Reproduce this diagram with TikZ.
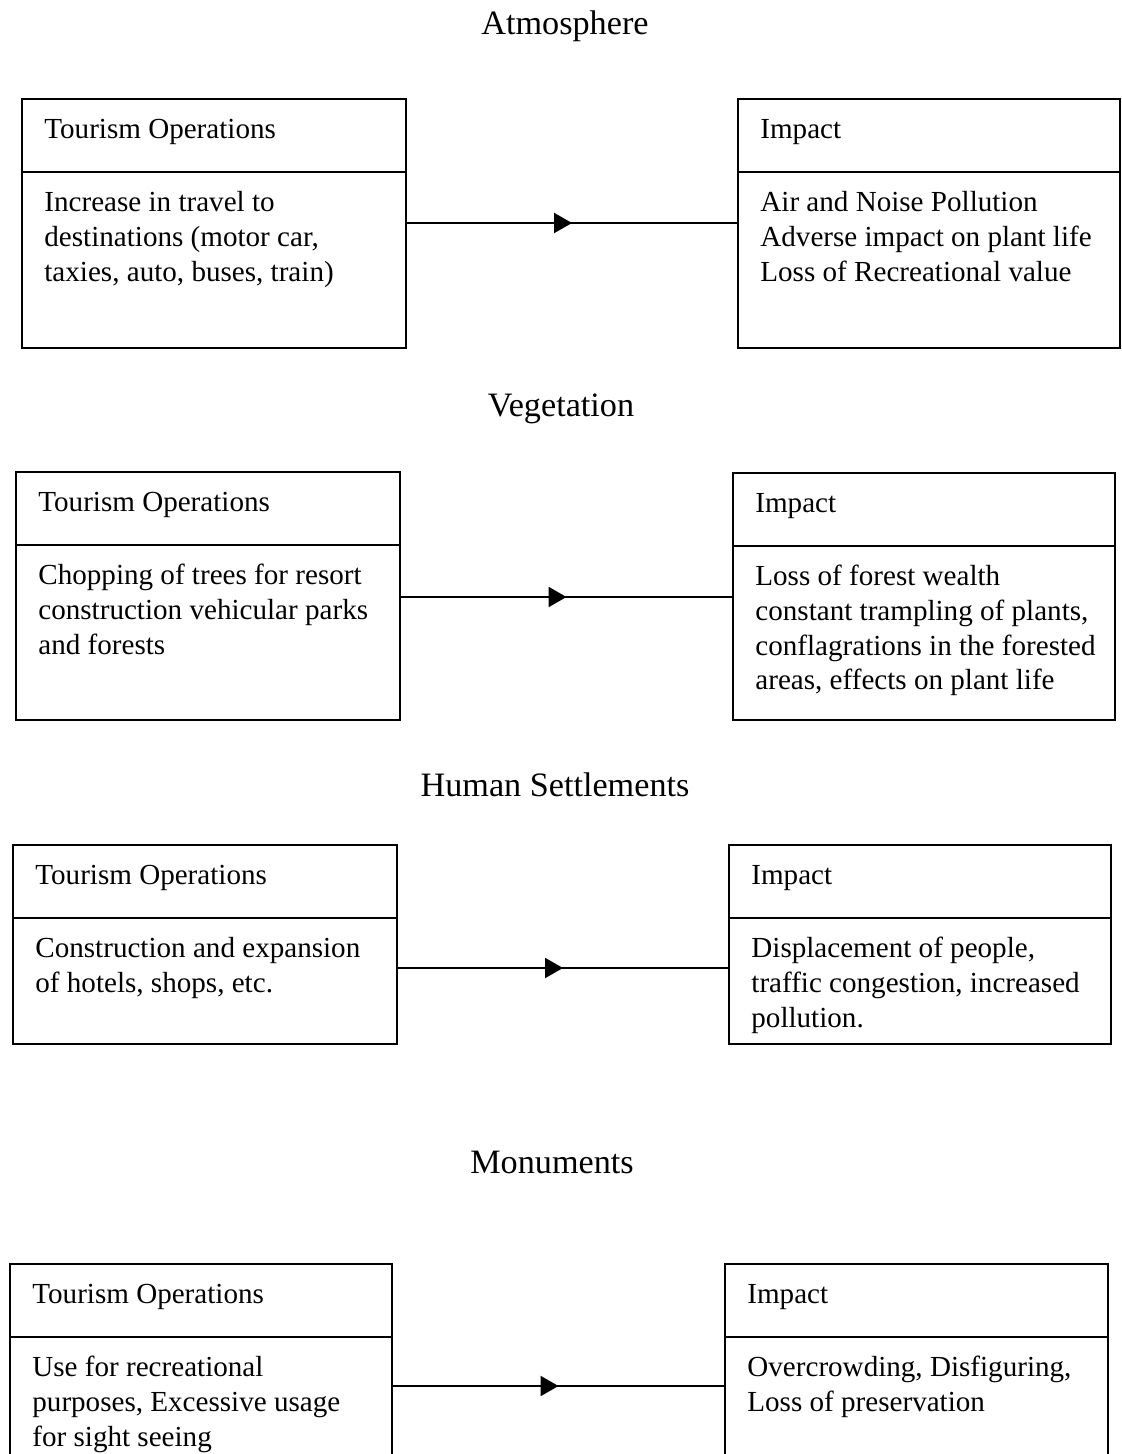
\documentclass[tikz,border=0pt]{standalone}
\usepackage{fontspec}
\setmainfont{Liberation Serif}
\usetikzlibrary{positioning, arrows.meta, decorations.markings}

\tikzset{
  opbox/.style={draw, line width=1.1pt, minimum width=192pt, outer sep=0pt, inner sep=0pt, anchor=north west},
  headbox/.style={opbox, minimum height=36.5pt},
  boxtext/.style={inner sep=0pt, anchor=north west, align=left, font=\fontsize{14.55}{17.4}\selectfont},
  heading/.style={anchor=base, inner sep=0pt, font=\fontsize{17.1}{19}\selectfont},
  flow/.style={line width=1.1pt, decoration={markings, mark=at position 0.5 with {\arrow{Triangle[length=9pt,width=10pt]}}}, postaction={decorate}}
}

\begin{document}
\begin{tikzpicture}[x=0.5pt, y=-0.5pt]
  \clip (0,0) rectangle (1122,1454);

  % Atmosphere
  \node[heading] (atm) at (565,35) {Atmosphere};
  \node[headbox] (op1) at (22,99) {};
  \node[opbox, minimum height=88pt] (op1b) at (op1.south west) {};
  \node[headbox, minimum width=191pt] (im1) at (738,99) {};
  \node[opbox, minimum width=191pt, minimum height=88pt] (im1b) at (im1.south west) {};
  \node[boxtext] (op1t) at ([shift={(11pt,-7.4pt)}]op1.north west) {\strut Tourism Operations};
  \node[boxtext] (op1bt) at ([shift={(11pt,-7.4pt)}]op1b.north west) {\strut Increase in travel to\\destinations (motor car,\\taxies, auto, buses, train)};
  \node[boxtext] (im1t) at ([shift={(11pt,-7.4pt)}]im1.north west) {\strut Impact};
  \node[boxtext] (im1bt) at ([shift={(11pt,-7.4pt)}]im1b.north west) {\strut Air and Noise Pollution\\Adverse impact on plant life\\Loss of Recreational value};
  \coordinate (a1) at ([yshift=-25.5pt]op1b.north east);
  \draw[flow] (a1) -- (a1 -| im1b.west);

  % Vegetation
  \node[heading] (veg) at (561,416) {Vegetation};
  \node[headbox] (op2) at (16,472) {};
  \node[opbox, minimum height=87.5pt] (op2b) at (op2.south west) {};
  \node[headbox, minimum width=191pt] (im2) at (733,473) {};
  \node[opbox, minimum width=191pt, minimum height=87pt] (im2b) at (im2.south west) {};
  \node[boxtext] (op2t) at ([shift={(11pt,-7.4pt)}]op2.north west) {\strut Tourism Operations};
  \node[boxtext] (op2bt) at ([shift={(11pt,-7.4pt)}]op2b.north west) {\strut Chopping of trees for resort\\construction vehicular parks\\and forests};
  \node[boxtext] (im2t) at ([shift={(11pt,-7.4pt)}]im2.north west) {\strut Impact};
  \node[boxtext] (im2bt) at ([shift={(11pt,-7.4pt)}]im2b.north west) {\strut Loss of forest wealth\\constant trampling of plants,\\conflagrations in the forested\\areas, effects on plant life};
  \coordinate (a2) at ([yshift=-26pt]op2b.north east);
  \draw[flow] (a2) -- (a2 -| im2b.west);

  % Human Settlements
  \node[heading] (hum) at (555,796) {Human Settlements};
  \node[headbox] (op3) at (13,845) {};
  \node[opbox, minimum height=63pt] (op3b) at (op3.south west) {};
  \node[headbox, minimum width=191pt] (im3) at (729,845) {};
  \node[opbox, minimum width=191pt, minimum height=63pt] (im3b) at (im3.south west) {};
  \node[boxtext] (op3t) at ([shift={(11pt,-7.4pt)}]op3.north west) {\strut Tourism Operations};
  \node[boxtext] (op3bt) at ([shift={(11pt,-7.4pt)}]op3b.north west) {\strut Construction and expansion\\of hotels, shops, etc.};
  \node[boxtext] (im3t) at ([shift={(11pt,-7.4pt)}]im3.north west) {\strut Impact};
  \node[boxtext] (im3bt) at ([shift={(11pt,-7.4pt)}]im3b.north west) {\strut Displacement of people,\\traffic congestion, increased\\pollution.};
  \coordinate (a3) at ([yshift=-25pt]op3b.north east);
  \draw[flow] (a3) -- (a3 -| im3b.west);

  % Monuments
  \node[heading] (mon) at (552,1173) {Monuments};
  \node[headbox, minimum width=191pt] (op4) at (10,1264) {};
  \node[opbox, minimum width=191pt, minimum height=100pt] (op4b) at (op4.south west) {};
  \node[headbox, minimum width=191.5pt] (im4) at (725,1264) {};
  \node[opbox, minimum width=191.5pt, minimum height=100pt] (im4b) at (im4.south west) {};
  \node[boxtext] (op4t) at ([shift={(11pt,-7.4pt)}]op4.north west) {\strut Tourism Operations};
  \node[boxtext] (op4bt) at ([shift={(11pt,-7.4pt)}]op4b.north west) {\strut Use for recreational\\purposes, Excessive usage\\for sight seeing};
  \node[boxtext] (im4t) at ([shift={(11pt,-7.4pt)}]im4.north west) {\strut Impact};
  \node[boxtext] (im4bt) at ([shift={(11pt,-7.4pt)}]im4b.north west) {\strut Overcrowding, Disfiguring,\\Loss of preservation};
  \coordinate (a4) at ([yshift=-24.5pt]op4b.north east);
  \draw[flow] (a4) -- (a4 -| im4b.west);
\end{tikzpicture}
\end{document}
